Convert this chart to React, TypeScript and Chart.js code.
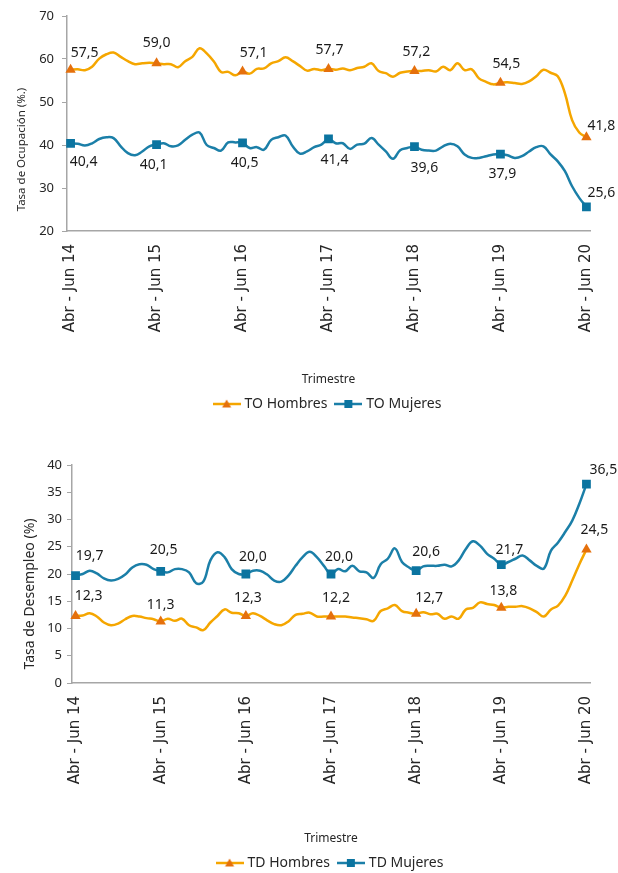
import React, { useEffect, useRef } from "react";
import { Chart, registerables } from "chart.js";

Chart.register(...registerables);

// ---------- data ----------
const MONTHS = ["Ene", "Feb", "Mar", "Abr", "May", "Jun", "Jul", "Ago", "Sep", "Oct", "Nov", "Dic"];
const PERIODS: string[] = Array.from({ length: 73 }, (_, i) => {
  const s = (3 + i) % 12;
  const e = (s + 2) % 12;
  const yr = 14 + Math.floor((5 + i) / 12);
  return `${MONTHS[s]} - ${MONTHS[e]} ${yr}`;
});
const TICK_LABELS = ["Abr - Jun 14", "Abr - Jun 15", "Abr - Jun 16", "Abr - Jun 17", "Abr - Jun 18", "Abr - Jun 19", "Abr - Jun 20"];
const LABEL_IDX = [0, 12, 24, 36, 48, 60, 72];

const TO_HOMBRES = [
  57.5, 57.6, 57.4, 58.2, 60.1, 61.1, 61.5, 60.5, 59.5, 58.8, 59.0, 59.1,
  59.0, 58.8, 58.8, 58.1, 59.5, 60.5, 62.5, 61.3, 59.4, 57.0, 57.0, 56.2,
  57.1, 56.6, 57.7, 57.8, 59.0, 59.5, 60.4, 59.5, 58.4, 57.3, 57.7, 57.4,
  57.7, 57.5, 57.8, 57.4, 57.9, 58.2, 59.0, 57.2, 56.7, 55.9, 56.8, 57.1,
  57.2, 57.2, 57.4, 57.1, 58.2, 57.4, 59.0, 57.4, 57.6, 55.5, 54.7, 54.1,
  54.5, 54.6, 54.4, 54.2, 54.8, 56.0, 57.5, 56.8, 56.0, 52.0, 45.8, 42.9,
  41.8,
];
const TO_MUJERES = [
  40.4, 40.3, 39.9, 40.4, 41.4, 41.8, 41.6, 39.7, 38.1, 37.6, 38.5, 39.7,
  40.1, 40.4, 39.7, 39.9, 41.2, 42.4, 42.9, 40.0, 39.3, 38.7, 40.6, 40.6,
  40.5, 39.3, 39.5, 38.9, 41.2, 41.8, 42.2, 39.7, 38.0, 38.5, 39.5, 40.1,
  41.4, 40.4, 40.4, 39.1, 40.1, 40.3, 41.6, 40.1, 38.5, 36.8, 38.8, 39.3,
  39.6, 38.9, 38.7, 38.7, 39.7, 40.3, 39.7, 37.8, 37.0, 37.0, 37.4, 37.8,
  37.9, 37.6, 37.0, 37.4, 38.5, 39.5, 39.7, 37.8, 36.2, 33.9, 30.4, 27.7,
  25.6,
];
const TD_HOMBRES = [
  12.3, 12.4, 12.8, 12.2, 11.1, 10.6, 10.9, 11.7, 12.3, 12.2, 11.9, 11.7,
  11.3, 11.8, 11.4, 11.8, 10.6, 10.2, 9.7, 11.1, 12.3, 13.5, 12.9, 12.8,
  12.3, 12.8, 12.3, 11.5, 10.8, 10.6, 11.3, 12.5, 12.7, 12.9, 12.2, 12.2,
  12.2, 12.2, 12.2, 12.0, 11.9, 11.7, 11.4, 13.2, 13.7, 14.3, 13.2, 12.9,
  12.7, 13.0, 12.6, 12.7, 11.8, 12.2, 11.8, 13.5, 13.8, 14.8, 14.5, 14.3,
  13.8, 14.0, 14.0, 14.1, 13.7, 13.0, 12.2, 13.5, 14.2, 16.0, 18.8, 21.8,
  24.5,
];
const TD_MUJERES = [
  19.7, 20.0, 20.6, 20.1, 19.2, 18.8, 19.1, 19.9, 21.2, 21.8, 21.7, 20.9,
  20.5, 20.3, 20.9, 20.9, 20.3, 18.3, 18.6, 22.5, 24.0, 23.1, 20.9, 20.0,
  20.0, 20.6, 20.6, 19.9, 18.8, 18.6, 19.7, 21.5, 23.1, 24.1, 23.1, 21.5,
  20.0, 20.9, 20.5, 21.5, 20.5, 20.3, 19.3, 21.8, 22.8, 24.7, 22.2, 21.2,
  20.6, 21.4, 21.5, 21.5, 21.7, 21.4, 22.5, 24.6, 26.0, 25.2, 23.7, 22.8,
  21.7, 22.2, 22.8, 23.4, 22.5, 21.5, 21.0, 24.3, 25.8, 27.7, 29.8, 32.9,
  36.5,
];

// ---------- styles ----------
const ORANGE_LINE = "#F5A600";
const ORANGE_MARK = "#E5700C";
const BLUE_LINE = "#1B7FA8";
const BLUE_MARK = "#0B74A0";
const TEXT = "#262626";
const AXIS = "#A6A6A6";
const FONT = "'Noto Sans', 'DejaVu Sans', sans-serif";

function legendSwatch(line: string, mark: string, style: string) {
  const c = document.createElement("canvas");
  c.width = 28;
  c.height = 12;
  const g = c.getContext("2d")!;
  g.strokeStyle = line;
  g.lineWidth = 2.5;
  g.beginPath();
  g.moveTo(0, 6);
  g.lineTo(28, 6);
  g.stroke();
  g.fillStyle = mark;
  if (style === "triangle") {
    g.beginPath();
    g.moveTo(14, 1.5);
    g.lineTo(18.5, 9.5);
    g.lineTo(9.5, 9.5);
    g.closePath();
    g.fill();
  } else {
    g.fillRect(10, 2, 8, 8);
  }
  return c;
}

const valueLabels = {
  id: "valueLabels",
  afterDatasetsDraw(chart: any, _a: any, opts: any) {
    const ctx = chart.ctx;
    ctx.save();
    ctx.font = `14px ${FONT}`;
    ctx.fillStyle = "#1a1a1a";
    ctx.textAlign = "center";
    ctx.textBaseline = "middle";
    chart.data.datasets.forEach((ds: any, di: number) => {
      const meta = chart.getDatasetMeta(di);
      const offs = opts.offsets[di];
      LABEL_IDX.forEach((idx, k) => {
        const p = meta.data[idx];
        const v = ds.data[idx] as number;
        ctx.fillText(v.toFixed(1).replace(".", ","), p.x + offs[k][0], p.y + offs[k][1]);
      });
    });
    ctx.restore();
  },
};

const yTitle = {
  id: "yTitle",
  afterDraw(chart: any, _a: any, opts: any) {
    const ctx = chart.ctx;
    const ca = chart.chartArea;
    ctx.save();
    ctx.font = `${opts.size}px ${FONT}`;
    ctx.fillStyle = TEXT;
    ctx.textAlign = "center";
    ctx.textBaseline = "middle";
    ctx.translate(opts.x, (ca.top + ca.bottom) / 2 + opts.dy);
    ctx.rotate(-Math.PI / 2);
    ctx.fillText(opts.text, 0, 0);
    ctx.restore();
  },
};

type PanelProps = {
  top: number;
  height: number;
  padTop: number;
  yWidth: number;
  xHeight: number;
  min: number;
  max: number;
  step: number;
  yText: string;
  yTitleX: number;
  yTitleDy: number;
  yTitleSize: number;
  tickPad: number;
  names: [string, string];
  hombres: number[];
  mujeres: number[];
  offsets: number[][][];
};

function Panel(p: PanelProps) {
  const ref = useRef<HTMLCanvasElement>(null);
  useEffect(() => {
    if (!ref.current) return;
    const radius = PERIODS.map((_, i) => (i % 12 === 0 ? 1 : 0));
    const swatches = [legendSwatch(ORANGE_LINE, ORANGE_MARK, "triangle"), legendSwatch(BLUE_LINE, BLUE_MARK, "rect")];
    const chart = new Chart(ref.current, {
      type: "line",
      data: {
        labels: PERIODS,
        datasets: [
          {
            label: p.names[0],
            data: p.hombres,
            borderColor: ORANGE_LINE,
            backgroundColor: ORANGE_MARK,
            borderWidth: 2.5,
            tension: 0.4,
            pointStyle: "triangle",
            pointRadius: radius.map((r) => r * 6),
            pointBorderWidth: 0,
            pointBackgroundColor: ORANGE_MARK,
          },
          {
            label: p.names[1],
            data: p.mujeres,
            borderColor: BLUE_LINE,
            backgroundColor: BLUE_MARK,
            borderWidth: 2.5,
            tension: 0.4,
            pointStyle: "rect",
            pointRadius: radius.map((r) => r * 6.2),
            pointBorderWidth: 0,
            pointBackgroundColor: BLUE_MARK,
          },
        ],
      },
      options: {
        responsive: false,
        animation: false,
        devicePixelRatio: 1,
        layout: { padding: { top: p.padTop, right: 28, left: 0, bottom: 0 } },
        plugins: {
          legend: {
            position: "bottom",
            fullSize: false,
            labels: {
              usePointStyle: true,
              pointStyleWidth: 22,
              boxHeight: 14,
              padding: 10,
              color: TEXT,
              font: { family: FONT, size: 14 },
              generateLabels: (chart: any) => {
                const items = Chart.defaults.plugins.legend.labels.generateLabels(chart);
                items.forEach((it: any, i: number) => {
                  it.pointStyle = swatches[i];
                });
                return items;
              },
            },
          },
          tooltip: { enabled: false },
          valueLabels: { offsets: p.offsets },
          yTitle: { text: p.yText, x: p.yTitleX, dy: p.yTitleDy, size: p.yTitleSize },
        } as any,
        scales: {
          x: {
            type: "category",
            offset: true,
            grid: { display: false, drawTicks: false },
            border: { display: true, color: AXIS, width: 1.5 },
            ticks: {
              autoSkip: false,
              minRotation: 90,
              maxRotation: 90,
              padding: 13,
              color: TEXT,
              font: { family: "'DejaVu Sans', sans-serif", size: 15 },
              callback: (_v: any, i: number) => (i % 12 === 0 ? TICK_LABELS[i / 12] : ""),
            },
            title: {
              display: true,
              text: "Trimestre",
              color: TEXT,
              font: { family: FONT, size: 12 },
              padding: { top: 0, bottom: 0 },
            },
            afterFit: (s: any) => {
              s.height = p.xHeight;
            },
          },
          y: {
            min: p.min,
            max: p.max,
            ticks: {
              stepSize: p.step,
              padding: p.tickPad,
              color: TEXT,
              font: { family: FONT, size: 13 },
            },
            grid: { drawOnChartArea: false, drawTicks: true, tickLength: 5, color: AXIS },
            border: { display: true, color: AXIS, width: 1.5 },
            afterFit: (s: any) => {
              s.width = p.yWidth;
            },
          },
        },
      },
      plugins: [valueLabels, yTitle],
    });
    return () => chart.destroy();
  }, []);
  return (
    <canvas
      ref={ref}
      width={618}
      height={p.height}
      style={{ position: "absolute", left: 0, top: p.top, width: 618, height: p.height }}
    />
  );
}

export default function App() {
  return (
    <div style={{ position: "absolute", left: 0, top: 0, width: 618, height: 873, overflow: "hidden", background: "#fff" }}>
      <Panel
        top={0}
        height={421}
        padTop={16}
        yWidth={67}
        xHeight={156}
        min={20}
        max={70}
        step={10}
        yText="Tasa de Ocupación (%.)"
        yTitleX={22}
        yTitleDy={26}
        yTitleSize={11.5}
        tickPad={8}
        names={["TO Hombres", "TO Mujeres"]}
        hombres={TO_HOMBRES}
        mujeres={TO_MUJERES}
        offsets={[
          [[14, -17], [0, -20], [11, -18], [1, -19], [2, -19], [6, -19], [15, -11]],
          [[13, 19], [-3, 20], [2, 20], [6, 21], [10, 21], [2, 20], [15, -14]],
        ]}
      />
      <Panel
        top={440}
        height={440}
        padTop={25}
        yWidth={72}
        xHeight={163}
        min={0}
        max={40}
        step={5}
        yText="Tasa de Desempleo (%)"
        yTitleX={30}
        yTitleDy={20}
        yTitleSize={14}
        tickPad={5}
        names={["TD Hombres", "TD Mujeres"]}
        hombres={TD_HOMBRES}
        mujeres={TD_MUJERES}
        offsets={[
          [[13, -20], [0, -16], [2, -18], [5, -18], [13, -16], [2, -17], [8, -19]],
          [[14, -20], [3, -21], [7, -17], [8, -17], [10, -19], [8, -15], [17, -14]],
        ]}
      />
    </div>
  );
}
